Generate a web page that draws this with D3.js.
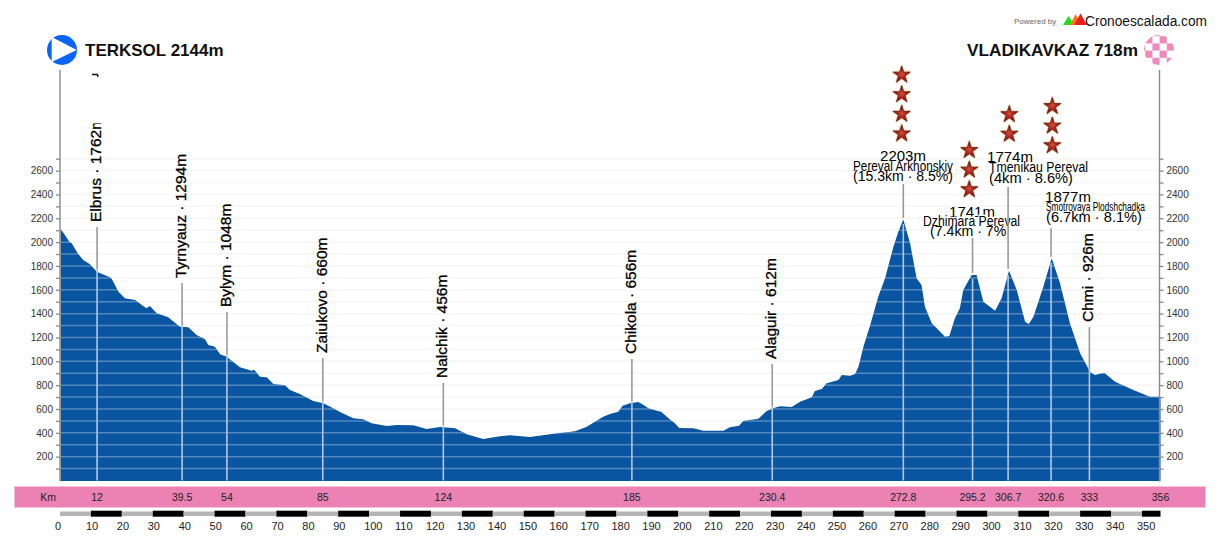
<!DOCTYPE html>
<html lang="en">
	<head>
		<meta charset="utf-8">
		<title>Terksol - Vladikavkaz</title>
		<script src="https://d3js.org/d3.v7.min.js"></script>
		<style type="text/css">
			html, body { margin: 0; padding: 0; background: #fff; }
			svg { display: block; font-family: "Liberation Sans", Arial, sans-serif; }
			.axis path { display: none; }
			.axis line { stroke: #8a8a8a; stroke-width: 1.3; }
			.axis text { font-size: 10px; fill: #333; }
			.waypoint { font-size: 15.5px; fill: #000; stroke: #000; stroke-width: 0.3; }
			.climb { fill: #000; }
			.endpoint { font-size: 17px; font-weight: bold; fill: #111; }
		</style>
	</head>
	<body>
		<script type="text/javascript">

			var w = 1220,
				h = 543;

			// profile
			var profileKm = [0.2,1.6,3.0,3.8,5.6,7.5,9.7,11.9,14.6,16.5,17.5,18.9,21.0,24.3,26.9,28.0,29.1,31.3,35.0,38.8,41.5,44.2,46.9,48.0,50.1,51.8,53.9,58.2,62.0,62.8,64.7,66.9,69.0,72.8,74.4,77.6,81.9,85.2,88.4,90.6,94.9,98.1,100.8,105.7,108.9,114.3,118.6,122.9,127.8,131.6,136.9,142.3,145.6,152.0,158.5,166.6,170.4,175.7,177.9,180.6,182.0,184.4,187.1,189.2,190.3,194.6,196.8,198.9,200.3,204.9,208.1,214.6,216.7,219.7,221.0,225.9,228.6,230.7,232.9,236.7,239.4,243.2,244.2,246.4,248.0,251.8,252.9,255.6,257.2,258.3,259.9,262.1,264.7,266.9,269.6,271.2,272.8,275.0,277.1,278.7,279.8,282.0,286.3,287.7,289.5,291.1,292.2,294.9,296.5,298.7,302.5,304.6,307.0,309.5,312.2,313.4,314.9,318.1,320.8,323.5,326.7,330.0,333.2,334.8,337.0,338.0,341.3,347.2,352.6,356];
			var profileElev = [2110,2060,2004,1990,1911,1850,1814,1752,1722,1702,1655,1584,1529,1515,1464,1445,1464,1403,1369,1291,1285,1221,1185,1137,1123,1059,1039,950,921,930,871,866,810,799,759,726,667,648,606,575,522,514,480,457,466,463,432,449,438,388,348,371,379,365,388,413,451,535,558,577,628,648,659,628,606,575,522,480,441,438,418,418,446,460,499,519,583,606,623,617,661,698,751,768,816,843,885,879,894,955,1123,1305,1542,1697,1962,2088,2190,1990,1697,1640,1458,1319,1207,1212,1361,1445,1598,1724,1724,1500,1425,1529,1760,1598,1332,1313,1374,1626,1864,1655,1319,1067,913,885,899,899,829,759,703,703];

			// towns along the route
			var townNames = ["Elbrus","Tyrnyauz","Bylym","Zaiukovo","Nalchik","Chikola","Alaguir","Chmi"];
			var townKm = [12,39.5,54,85,124,185,230.4,333];
			var townElev = [1762,1294,1048,660,456,656,612,926];

			// categorised climbs
			var climbNames = ["Pereval Arkhonskiy","Dzhimara Pereval","Tmenikau Pereval","Smotrovaya Plodshchadka"];
			var climbKm = [272.8,295.2,306.7,320.6];
			var climbElev = [2203,1741,1774,1877];
			var climbLength = [15.3,7.4,4,6.7];
			var climbGrade = [8.5,7,8.6,8.1];
			var climbStars = [4,3,2,3];

			var yTicks = d3.range(100, 2800, 100);
			var kmTicks = [12,39.5,54,85,124,185,230.4,272.8,295.2,306.7,320.6,333,356];
			var scaleTicks = d3.range(0, 360, 10);

			var x = d3.scaleLinear().domain([0, 356]).range([60, 1160.5]),
				y = d3.scaleLinear().domain([0, 2700]).range([480.5, 158.7]);

			var svg = d3.select("body").append("svg").attr("width", w).attr("height", h);

			var defs = svg.append("defs");
			var grad = defs.append("radialGradient").attr("id", "starFill");
			grad.append("stop").attr("offset", "0%").attr("stop-color", "#c9562e");
			grad.append("stop").attr("offset", "45%").attr("stop-color", "#b82226");
			grad.append("stop").attr("offset", "100%").attr("stop-color", "#8a1518");
			defs.append("clipPath").attr("id", "checker").append("circle").attr("cx", 1159).attr("cy", 50).attr("r", 15);
			defs.append("clipPath").attr("id", "elbrusClip").append("rect").attr("x", 80).attr("y", 123.5).attr("width", 40).attr("height", 120);
			defs.append("clipPath").attr("id", "statClip").append("rect").attr("x", 920).attr("y", 220).attr("width", 86.5).attr("height", 30);

			// faint gridlines, stronger over the profile
			var profile = profileKm.map(function(d, i) { return [d, profileElev[i]]; });
			var area = d3.area()
				.x(function(d) { return x(d[0]); })
				.y0(y(-5))
				.y1(function(d) { return y(d[1]); });

			svg.append("g").selectAll("line")
				.data(yTicks)
				.enter()
				.append("line")
				.attr("x1", x(0)).attr("x2", x(356))
				.attr("y1", function(d) { return y(d); })
				.attr("y2", function(d) { return y(d); })
				.attr("stroke", "#f6f6f6")
				.attr("stroke-width", 1.5);

			svg.append("path")
				.datum(profile)
				.attr("d", area)
				.attr("fill", "#0a55a2");

			defs.append("clipPath").attr("id", "underProfile").append("path").datum(profile).attr("d", area);

			var inside = svg.append("g").attr("clip-path", "url(#underProfile)");
			inside.selectAll("line.grid")
				.data(yTicks)
				.enter()
				.append("line")
				.attr("class", "grid")
				.attr("x1", x(0)).attr("x2", x(356))
				.attr("y1", function(d) { return y(d); })
				.attr("y2", function(d) { return y(d); })
				.attr("stroke", "#fff")
				.attr("stroke-opacity", 0.3)
				.attr("stroke-width", 1.5);

			// y axes on both sides
			var yLabel = function(d) { return d % 200 === 0 ? d : ""; };
			svg.append("g").attr("class", "axis")
				.attr("transform", "translate(" + x(0) + ",0)")
				.call(d3.axisLeft(y).tickValues(yTicks).tickSize(4).tickPadding(3).tickFormat(yLabel));
			svg.append("g").attr("class", "axis")
				.attr("transform", "translate(" + 1159.5 + ",0)")
				.call(d3.axisRight(y).tickValues(yTicks).tickSize(4).tickPadding(3).tickFormat(yLabel));

			svg.selectAll(".frame")
				.data([x(0), 1159.5])
				.enter()
				.append("line")
				.attr("class", "frame")
				.attr("x1", function(d) { return d; }).attr("x2", function(d) { return d; })
				.attr("y1", 70).attr("y2", 481.5)
				.attr("stroke", "#8a8a8a")
				.attr("stroke-width", 1.4);

			// town markers and labels
			var townTop = [227,283,312,358,383,359,364,327];
			var towns = svg.append("g").selectAll("g")
				.data(townNames)
				.enter()
				.append("g");
			towns.append("line")
				.attr("x1", function(d, i) { return x(townKm[i]); })
				.attr("x2", function(d, i) { return x(townKm[i]); })
				.attr("y1", function(d, i) { return townTop[i]; })
				.attr("y2", function(d, i) { return y(townElev[i]) - 1; })
				.attr("stroke", "#999")
				.attr("stroke-width", 1.6);
			towns.append("line")
				.attr("x1", function(d, i) { return x(townKm[i]); })
				.attr("x2", function(d, i) { return x(townKm[i]); })
				.attr("y1", function(d, i) { return y(townElev[i]) - 1; })
				.attr("y2", y(0))
				.attr("stroke", "#b2c8df")
				.attr("stroke-width", 1.6);
			towns.append("g")
				.attr("clip-path", function(d, i) { return i === 0 ? "url(#elbrusClip)" : null; })
				.append("text")
				.attr("class", "waypoint")
				.attr("transform", function(d, i) {
					return "translate(" + (x(townKm[i]) + 4) + "," + (townTop[i] - 5) + ") rotate(-90)";
				})
				.text(function(d, i) { return d + " · " + townElev[i] + "m"; });

			// stray piece of a label at the top of the Elbrus column
			svg.append("path")
				.attr("d", "M92,74.5 L97.5,74.5 L98,77")
				.attr("fill", "none")
				.attr("stroke", "#111")
				.attr("stroke-width", 1.4);

			// climbs: marker, text block, stars
			var climbLayout = [
				{ top: 184, elevX: 903, elevY: 161, nameX: 853, nameY: 171, nameW: 100, statY: 181, statW: 100, starX: 901.7, starY: 133.7 },
				{ top: 238, elevX: 972, elevY: 217, nameX: 923, nameY: 226, nameW: 97, statY: 236, statW: 81, statX: 930, starX: 969.3, starY: 189.5 },
				{ top: 187, elevX: 1010, elevY: 162, nameX: 989, nameY: 172, nameW: 99, statY: 183, statW: 84, starX: 1009.3, starY: 134 },
				{ top: 228, elevX: 1068, elevY: 202, nameX: 1046, nameY: 211, nameW: 99, statY: 222, statW: 96, starX: 1052.3, starY: 145.5 }
			];

			var climbs = svg.append("g").selectAll("g")
				.data(climbNames)
				.enter()
				.append("g");

			climbs.append("text")
				.attr("class", "climb")
				.attr("x", function(d, i) { return climbLayout[i].elevX; })
				.attr("y", function(d, i) { return climbLayout[i].elevY; })
				.attr("text-anchor", "middle")
				.attr("font-size", 15)
				.text(function(d, i) { return climbElev[i] + "m"; });
			climbs.append("text")
				.attr("class", "climb")
				.attr("x", function(d, i) { return climbLayout[i].nameX; })
				.attr("y", function(d, i) { return climbLayout[i].nameY; })
				.attr("font-size", function(d, i) { return i === 3 ? 12 : 14; })
				.attr("textLength", function(d, i) { return climbLayout[i].nameW; })
				.attr("lengthAdjust", "spacingAndGlyphs")
				.attr("stroke", function(d, i) { return i === 1 ? "#fff" : "none"; })
				.attr("stroke-width", 3)
				.style("paint-order", "stroke")
				.text(function(d) { return d; });
			climbs.append("text")
				.attr("class", "climb")
				.attr("x", function(d, i) { return climbLayout[i].statX || climbLayout[i].nameX; })
				.attr("y", function(d, i) { return climbLayout[i].statY; })
				.attr("font-size", 15)
				.attr("textLength", function(d, i) { return climbLayout[i].statW; })
				.attr("lengthAdjust", "spacingAndGlyphs")
				.attr("clip-path", function(d, i) { return i === 1 ? "url(#statClip)" : null; })
				.text(function(d, i) { return "(" + climbLength[i] + "km · " + climbGrade[i] + "%)"; });

			climbs.append("line")
				.attr("x1", function(d, i) { return x(climbKm[i]); })
				.attr("x2", function(d, i) { return x(climbKm[i]); })
				.attr("y1", function(d, i) { return climbLayout[i].top; })
				.attr("y2", function(d, i) { return y(climbElev[i]); })
				.attr("stroke", "#999")
				.attr("stroke-width", 1.6);
			climbs.append("line")
				.attr("x1", function(d, i) { return x(climbKm[i]); })
				.attr("x2", function(d, i) { return x(climbKm[i]); })
				.attr("y1", function(d, i) { return y(climbElev[i]) + 6; })
				.attr("y2", y(0))
				.attr("stroke", "#b2c8df")
				.attr("stroke-width", 1.6);

			var star = d3.symbol().type(d3.symbolStar).size(88);
			climbs.each(function(d, i) {
				var g = d3.select(this).selectAll("g.star")
					.data(d3.range(climbStars[i]))
					.enter()
					.append("g")
					.attr("class", "star")
					.attr("transform", function(s) {
						return "translate(" + climbLayout[i].starX + "," + (climbLayout[i].starY - s * 19.6) + ")";
					});
				g.append("path")
					.attr("d", star)
					.attr("fill", "none")
					.attr("stroke", "#efd9b4")
					.attr("stroke-width", 2.6)
					.attr("stroke-linejoin", "round");
				g.append("path")
					.attr("d", star)
					.attr("fill", "url(#starFill)")
					.attr("stroke", "#5a1c14")
					.attr("stroke-width", 0.8);
			});

			// pink km band
			svg.append("rect")
				.attr("x", 14.5).attr("y", 486.5).attr("width", 1191).attr("height", 21)
				.attr("fill", "#ec82b4")
				.attr("stroke", "#f7c0da");
			svg.append("text")
				.attr("x", 48).attr("y", 501)
				.attr("text-anchor", "middle")
				.attr("font-size", 10.5)
				.attr("fill", "#222")
				.text("Km");
			svg.append("g").selectAll("text")
				.data(kmTicks)
				.enter()
				.append("text")
				.attr("x", function(d) { return x(d); })
				.attr("y", 501)
				.attr("text-anchor", "middle")
				.attr("font-size", 10.5)
				.attr("fill", "#222")
				.text(function(d) { return d; });

			// distance scale
			svg.append("g").selectAll("rect")
				.data(scaleTicks)
				.enter()
				.append("rect")
				.attr("x", function(d) { return x(d); })
				.attr("y", function(d, i) { return i % 2 ? 510.7 : 511.5; })
				.attr("width", function(d) { return x(Math.min(d + 10, 356)) - x(d); })
				.attr("height", function(d, i) { return i % 2 ? 6 : 4.5; })
				.attr("fill", function(d, i) { return i % 2 ? "#000" : "#b5b5b5"; });
			svg.append("g").selectAll("text")
				.data(scaleTicks.filter(function(d) { return d <= 350; }))
				.enter()
				.append("text")
				.attr("x", function(d) { return x(d) - 5; })
				.attr("y", 530)
				.attr("font-size", 11)
				.attr("fill", "#222")
				.text(function(d) { return d; });

			// start and finish
			svg.append("text").attr("class", "endpoint").attr("x", 85).attr("y", 55.5).text("TERKSOL 2144m");
			svg.append("text").attr("class", "endpoint").attr("x", 1138).attr("y", 55.5).attr("text-anchor", "end").attr("textLength", 171).attr("lengthAdjust", "spacingAndGlyphs").text("VLADIKAVKAZ 718m");
			svg.append("circle").attr("cx", 62).attr("cy", 50).attr("r", 15).attr("fill", "#0a64f5");
			svg.append("path").attr("d", "M51.7,37 L76.7,50 L51.7,62 Z").attr("fill", "#fff");

			var checker = svg.append("g").attr("clip-path", "url(#checker)");
			d3.range(0, 36).forEach(function(k) {
				var c = k % 6, r = Math.floor(k / 6);
				if ((c + r) % 2 === 0) {
					checker.append("rect")
						.attr("x", 1138 + c * 7.2).attr("y", 29 + r * 7.2)
						.attr("width", 7.2).attr("height", 7.2)
						.attr("fill", "#ee8abb");
				}
			});

			// logo
			svg.append("text").attr("x", 1014).attr("y", 24).attr("font-size", 8).attr("fill", "#666").text("Powered by");
			svg.selectAll(".peak")
				.data([["#19e01a", 1063, 1074, 16], ["#f57a1a", 1070, 1081, 14], ["#ee1c1c", 1074, 1087, 13.5]])
				.enter()
				.append("path")
				.attr("class", "peak")
				.attr("d", function(d) {
					return "M" + d[1] + ",25 L" + (d[1] + d[2]) / 2 + "," + d[3] + " L" + d[2] + ",25 Z";
				})
				.attr("fill", function(d) { return d[0]; });
			svg.append("text").attr("x", 1085).attr("y", 25.5).attr("font-size", 14).attr("textLength", 122).attr("lengthAdjust", "spacingAndGlyphs").attr("fill", "#111").text("Cronoescalada.com");

		</script>
	</body>
</html>
